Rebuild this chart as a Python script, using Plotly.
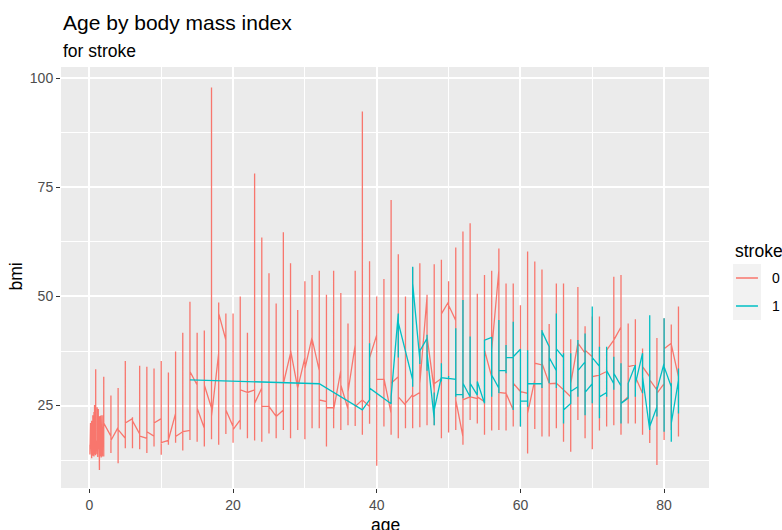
import plotly.graph_objects as go

# ---------------- data ----------------
# stroke = 0 : per age, first value, lowest, highest and last value of the path
age0 = [0.08, 0.16, 0.24, 0.32, 0.40, 0.48, 0.56, 0.64, 0.72, 0.80, 0.88, 1.00,
        1.08, 1.16, 1.24, 1.32, 1.40, 1.48, 1.56, 1.64, 1.72, 1.80, 1.88,
        2, 3, 4, 5, 6, 7, 8, 9, 10, 11, 12, 13, 14, 15, 16, 17, 18, 19, 20,
        21, 22, 23, 24, 25, 26, 27, 28, 29, 30, 31, 32, 33, 34, 35, 36, 37, 38, 39, 40,
        41, 42, 43, 44, 45, 46, 47, 48, 49, 50, 51, 52, 53, 54, 55, 56, 57, 58, 59, 60,
        61, 62, 63, 64, 65, 66, 67, 68, 69, 70, 71, 72, 73, 74, 75, 76, 77, 78, 79, 80,
        81, 82]
first0 = [16, 15, 17, 18, 16, 20, 16.5, 19, 22, 18, 21, 17,
          20, 17, 22, 15, 19, 14.5, 19, 18, 20.5, 17, 18.5,
          20, 18, 20, 17.5, 22, 18.5, 17.5, 18, 22, 17, 23.2, 19, 19.3, 29.7, 19.8, 24.4, 37, 40, 20.2,
          21.7, 28, 28.6, 29, 24.8, 22.5, 24, 37, 29, 36, 40.7, 33, 25.9, 24.5, 33, 24.2, 38.9, 26.3, 24.8, 41.2,
          31, 23.2, 31.6, 25.1, 27.5, 28, 50, 28.6, 31.2, 48.8, 44.5, 17.9, 27, 26.6, 25.9, 31.6, 56, 27.8, 24, 28.2,
          27.8, 30.9, 34.3, 30.1, 30.1, 28.6, 27, 39.3, 37, 36.2, 32, 32.8, 40, 43, 27, 34.3, 27.8, 31.6, 28.6, 30,
          39.3, 31.6]
low0 = [13.8, 14.5, 13.2, 12.9, 14.8, 13.5, 14, 13.3, 14.2, 13.8, 13.6, 14.5,
        13.9, 13.2, 14.1, 12.5, 10.2, 13.4, 14, 13.1, 13.6, 13.3, 14.3,
        13.3, 14.1, 11.8, 15.2, 15.2, 15, 14.1, 15.6, 13.7, 16, 16.5, 14.7, 17.1, 16.7, 15.6, 17.3, 16, 18.5, 16.5,
        19.5, 17.5, 17, 16.7, 18.6, 17.5, 19.4, 17.5, 19.4, 17.3, 19.8, 19.8, 15.6, 19.8, 19.4, 20.5, 20.3, 18.3, 20.8, 11.2,
        20.2, 18.3, 17.5, 19.8, 19.8, 20, 20.5, 20.5, 17.5, 18.8, 19.4, 16, 21.7, 20.9, 18.3, 19.3, 19.4, 19.3, 20.2, 20.2,
        14, 19.6, 17.9, 17.9, 19.8, 16.7, 14.4, 21.7, 17.5, 15, 19.3, 20.2, 20.5, 18.3, 20.9, 20.9, 18.3, 16.4, 11.4, 17.1,
        19.4, 17.9]
high0 = [18.5, 21, 19.5, 21.5, 20, 22.8, 21.5, 23.5, 25.1, 24.3, 33.3, 24.5,
         24.6, 23.8, 24.2, 22.5, 22.1, 22.6, 21.4, 22.8, 22.3, 21.9, 22.8,
         31.6, 27.3, 29, 35.2, 22.3, 34.1, 33.9, 33.5, 35.2, 32.6, 37.4, 41.7, 48.8, 41.7, 42.2, 97.9, 48.6, 46.1, 46.1,
         50, 41.7, 78.2, 63.5, 55.3, 48.4, 64.7, 57.6, 46.9, 53.5, 54.9, 55.9, 50.4, 55.9, 50.8, 43.8, 55.9, 92.4, 58.1, 50,
         54, 72.1, 59.7, 50, 56.7, 57.6, 50.4, 57.4, 58.4, 53.5, 61.2, 64.9, 66.8, 50.6, 54.9, 55.9, 61, 53, 53, 48,
         60.3, 58, 56.2, 43.7, 53, 53, 40.2, 52.2, 43.2, 45.4, 45.4, 38.1, 54.5, 54.9, 43.8, 44.8, 38.1, 33.1, 40.5, 45,
         43.6, 47.7]
last0 = [17, 18, 16, 15.5, 19, 17, 18, 21, 17, 20, 16.5, 19.5,
         18, 21, 16, 18.5, 14, 20, 17, 21, 16, 19, 20.5,
         21, 17, 19.5, 21, 21.5, 18, 19, 21, 16.5, 17.1, 17.9, 19, 32.8, 24.4, 29.7, 22.5, 46.1, 24, 19.5,
         28.6, 28, 25.5, 24.8, 24.8, 22.5, 30, 37.7, 29, 33.4, 40.3, 26.3, 24.5, 24, 29.7, 28.1, 24.8, 26.3, 35.9, 31,
         31.2, 30.1, 27, 25.5, 27, 30, 40.8, 30, 46, 48, 26.3, 26.3, 27, 27, 37.7, 37.7, 28, 27.8, 30.1, 28.2,
         23.2, 34.7, 34.7, 30, 30.1, 28.6, 30, 39.3, 37.7, 31.6, 32, 37.7, 40, 25.5, 33.9, 31.6, 33.9, 30.9, 27.8, 38,
         39, 30]

# stroke = 1
age1 = [14, 32, 38, 39, 42, 43, 45, 46, 47, 48, 49, 50, 51, 52, 53, 54, 55, 56, 57, 58, 59, 60,
        61, 63, 64, 65, 66, 67, 68, 69, 70, 71, 72, 73, 74, 75, 76, 77, 78, 79, 80, 81, 82]
first1 = [30.9, 30.0, 24.0, 26.3, 25.4, 46.1, 30.9, 35.5, 40.4, 22, 31.6, 31.2, 31, 27.5, 27, 27.4, 25.5, 40.6, 29, 33, 36, 37.9,
          26, 30, 38.5, 33, 36, 25.5, 29.3, 35, 30, 34, 28, 30, 29.5, 26.7, 34.3, 37, 19.4, 24.7, 34.7, 29.3, 30.8]
low1 = [30.9, 30.0, 24.0, 26.3, 25.4, 36, 29.3, 34.5, 33, 20.5, 30.5, 31, 27, 26.7, 27, 27.4, 25.5, 27, 27.8, 32.4, 24, 20.2,
        24.7, 29, 30.1, 29, 20.9, 25.5, 27, 22.8, 25.5, 22.1, 27, 28.6, 20.9, 26.7, 27, 27.8, 19.4, 22.5, 19, 16.7, 23.2]
high1 = [30.9, 30.0, 24.0, 39.3, 27.2, 46.1, 56.8, 38, 41.2, 28, 34.7, 31.8, 42.7, 49.2, 40.8, 30.5, 40, 40.6, 44.6, 38.9, 44.2, 37.9,
         37.7, 42.3, 38.5, 46.1, 37, 37, 40, 41.5, 47.7, 38.5, 38.5, 36.2, 34.7, 30.1, 34.3, 37, 45.7, 29.3, 45, 30.1, 33.5]
last1 = [30.9, 30.0, 24.0, 29, 27, 44, 53, 37.5, 37, 24, 31.4, 31.2, 27.5, 30.1, 30.1, 30.5, 40, 32, 33, 36, 36.2, 26,
         30, 42, 36, 38, 24, 28.2, 33, 28, 36, 27, 33, 32.4, 25.5, 30.1, 30, 31.6, 20.2, 28.6, 33.9, 20.9, 33.5]

x_ticks = [0, 20, 40, 60, 80]
y_ticks = [25, 50, 75, 100]


def path(ages, first, low, high, last):
    xs, ys = [], []
    for a, f, lo, hi, la in zip(ages, first, low, high, last):
        for v in (f, lo, hi, la):
            xs.append(a)
            ys.append(v)
    return xs, ys


x0, y0 = path(age0, first0, low0, high0, last0)
x1, y1 = path(age1, first1, low1, high1, last1)

RED = "#F8766D"
CYAN = "#00BFC4"
FONT = "Liberation Sans, Arial, sans-serif"

fig = go.Figure()
fig.add_trace(go.Scatter(x=x0, y=y0, mode="lines", line=dict(color=RED, width=1.3),
                         name="0", showlegend=False, hoverinfo="skip"))
fig.add_trace(go.Scatter(x=x1, y=y1, mode="lines", line=dict(color=CYAN, width=1.3),
                         name="1", showlegend=False, hoverinfo="skip"))

# pixel geometry of the panel
L, R, T, B = 60.5, 709.0, 67.0, 488.0
W, H = 782, 530


def px(x):
    return (x - L) / (R - L)


def py(y):
    return (B - y) / (B - T)


annotations = [
    dict(text="Age by body mass index", x=px(61), y=py(22), xanchor="left", yanchor="middle",
         font=dict(size=21, color="black", family=FONT)),
    dict(text="for stroke", x=px(61), y=py(51), xanchor="left", yanchor="middle",
         font=dict(size=17.5, color="black", family=FONT)),
    dict(text="age", x=px(385), y=py(513), xanchor="center", yanchor="top",
         font=dict(size=17.5, color="black", family=FONT)),
    dict(text="bmi", x=px(15), y=py(277), xanchor="center", yanchor="middle", textangle=-90,
         font=dict(size=17.5, color="black", family=FONT)),
    dict(text="stroke", x=px(733), y=py(251), xanchor="left", yanchor="middle",
         font=dict(size=17.5, color="black", family=FONT)),
    dict(text="0", x=px(770), y=py(278), xanchor="left", yanchor="middle",
         font=dict(size=14, color="black", family=FONT)),
    dict(text="1", x=px(770), y=py(306), xanchor="left", yanchor="middle",
         font=dict(size=14, color="black", family=FONT)),
]
for a in annotations:
    a.update(xref="paper", yref="paper", showarrow=False)

shapes = [
    dict(type="rect", x0=px(733), x1=px(761), y0=py(264), y1=py(320),
         fillcolor="#F2F2F2", line=dict(width=0)),
    dict(type="line", x0=px(736), x1=px(758), y0=py(278), y1=py(278), line=dict(color=RED, width=1.5)),
    dict(type="line", x0=px(736), x1=px(758), y0=py(306), y1=py(306), line=dict(color=CYAN, width=1.5)),
]
for s in shapes:
    s.update(xref="paper", yref="paper", layer="above")

axis_common = dict(
    showgrid=True, gridcolor="white", gridwidth=1.6, zeroline=False,
    ticks="outside", ticklen=4, tickwidth=1.2, tickcolor="#333333",
    tickfont=dict(size=14, color="#4D4D4D", family=FONT),
    showline=False,
)

fig.update_layout(
    width=W, height=H,
    margin=dict(l=L, r=W - R, t=T, b=H - B, pad=0),
    paper_bgcolor="white", plot_bgcolor="#EBEBEB",
    showlegend=False,
    annotations=annotations, shapes=shapes,
    xaxis=dict(range=[-3.95, 86.25], tickvals=x_ticks, ticktext=[str(v) for v in x_ticks],
               minor=dict(tickvals=[10, 30, 50, 70], showgrid=True, gridcolor="white", gridwidth=0.8, ticks=""),
               **axis_common),
    yaxis=dict(range=[6.1, 102.6], tickvals=y_ticks, ticktext=[str(v) for v in y_ticks],
               minor=dict(tickvals=[12.5, 37.5, 62.5, 87.5], showgrid=True, gridcolor="white", gridwidth=0.8, ticks=""),
               **axis_common),
)

fig.write_html("out.html", config={"displayModeBar": False},
               post_script="document.body.style.margin='0';document.body.style.padding='0';"
                           "document.body.style.overflow='hidden';")
